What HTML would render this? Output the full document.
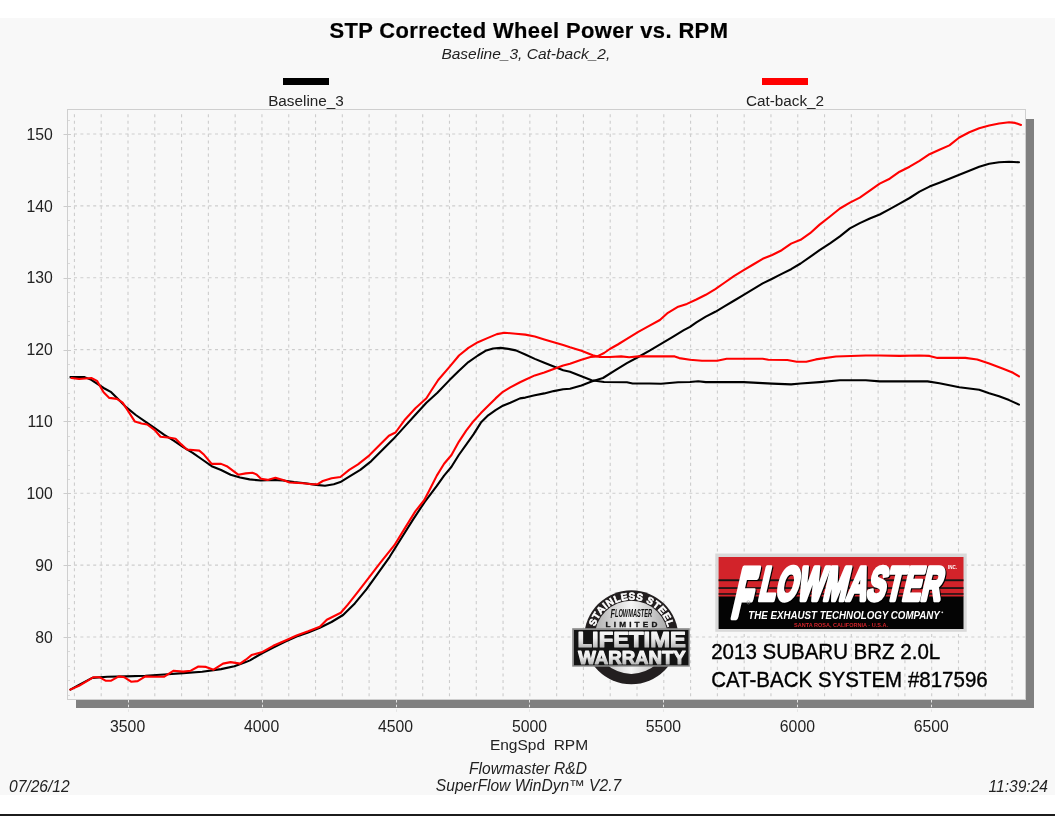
<!DOCTYPE html>
<html><head><meta charset="utf-8"><title>STP Corrected Wheel Power vs. RPM</title>
<style>
html,body{margin:0;padding:0;width:1055px;height:816px;overflow:hidden;background:#fff}
svg{position:absolute;left:0;top:0;display:block}
text{font-family:"Liberation Sans",Arial,sans-serif}
</style></head><body>
<svg width="1055" height="816" viewBox="0 0 1055 816">
<defs>
<linearGradient id="disc" x1="0" y1="0" x2="1" y2="0">
<stop offset="0" stop-color="#b0b0b0"/><stop offset="0.5" stop-color="#f6f6f6"/><stop offset="1" stop-color="#a8a8a8"/>
</linearGradient>
<linearGradient id="txtsil" x1="0" y1="0" x2="0" y2="1">
<stop offset="0" stop-color="#ffffff"/><stop offset="0.45" stop-color="#ececec"/><stop offset="1" stop-color="#a0a0a0"/>
</linearGradient>
<filter id="fmsh" x="-5%" y="-10%" width="110%" height="120%" color-interpolation-filters="sRGB">
<feOffset in="SourceAlpha" dx="1.4" dy="0.5" result="o"/>
<feMorphology in="o" operator="dilate" radius="0.45" result="d"/>
<feFlood flood-color="#000"/><feComposite in2="d" operator="in" result="s"/>
<feMerge><feMergeNode in="s"/><feMergeNode in="SourceGraphic"/></feMerge>
</filter>
<path id="arc" d="M 593.5 637.3 A 37.8 37.8 0 0 1 669.1 637.3"/>
</defs>
<rect x="0" y="18" width="1055" height="777" fill="#f8f8f8"/>
<rect x="0" y="814" width="1055" height="2" fill="#1c1c1c"/>
<!-- plot shadow -->
<rect x="76" y="119" width="958" height="589" fill="#808080"/>
<rect x="67" y="109" width="959" height="591" fill="#f8f8f8"/>
<g stroke="#cdcdcd" stroke-width="1.1" fill="none">
<g stroke-dasharray="3.1 3.48">
<line x1="74.42" y1="114.13" x2="74.42" y2="699"/>
<line x1="101.21" y1="114.13" x2="101.21" y2="699"/>
<line x1="128.0" y1="114.13" x2="128.0" y2="699"/>
<line x1="154.79" y1="114.13" x2="154.79" y2="699"/>
<line x1="181.58" y1="114.13" x2="181.58" y2="699"/>
<line x1="208.37" y1="114.13" x2="208.37" y2="699"/>
<line x1="235.16" y1="114.13" x2="235.16" y2="699"/>
<line x1="261.95" y1="114.13" x2="261.95" y2="699"/>
<line x1="288.74" y1="114.13" x2="288.74" y2="699"/>
<line x1="315.53" y1="114.13" x2="315.53" y2="699"/>
<line x1="342.32" y1="114.13" x2="342.32" y2="699"/>
<line x1="369.11" y1="114.13" x2="369.11" y2="699"/>
<line x1="395.9" y1="114.13" x2="395.9" y2="699"/>
<line x1="422.69" y1="114.13" x2="422.69" y2="699"/>
<line x1="449.48" y1="114.13" x2="449.48" y2="699"/>
<line x1="476.27" y1="114.13" x2="476.27" y2="699"/>
<line x1="503.06" y1="114.13" x2="503.06" y2="699"/>
<line x1="529.85" y1="114.13" x2="529.85" y2="699"/>
<line x1="556.64" y1="114.13" x2="556.64" y2="699"/>
<line x1="583.43" y1="114.13" x2="583.43" y2="699"/>
<line x1="610.22" y1="114.13" x2="610.22" y2="699"/>
<line x1="637.01" y1="114.13" x2="637.01" y2="699"/>
<line x1="663.8" y1="114.13" x2="663.8" y2="699"/>
<line x1="690.59" y1="114.13" x2="690.59" y2="699"/>
<line x1="717.38" y1="114.13" x2="717.38" y2="699"/>
<line x1="744.17" y1="114.13" x2="744.17" y2="699"/>
<line x1="770.96" y1="114.13" x2="770.96" y2="699"/>
<line x1="797.75" y1="114.13" x2="797.75" y2="699"/>
<line x1="824.54" y1="114.13" x2="824.54" y2="699"/>
<line x1="851.33" y1="114.13" x2="851.33" y2="699"/>
<line x1="878.12" y1="114.13" x2="878.12" y2="699"/>
<line x1="904.91" y1="114.13" x2="904.91" y2="699"/>
<line x1="931.7" y1="114.13" x2="931.7" y2="699"/>
<line x1="958.49" y1="114.13" x2="958.49" y2="699"/>
<line x1="985.28" y1="114.13" x2="985.28" y2="699"/>
<line x1="1012.07" y1="114.13" x2="1012.07" y2="699"/>
</g>
<g stroke-dasharray="3.0 3.41">
<line x1="73.97" y1="637.02" x2="1025" y2="637.02"/>
<line x1="73.97" y1="565.16" x2="1025" y2="565.16"/>
<line x1="73.97" y1="493.3" x2="1025" y2="493.3"/>
<line x1="73.97" y1="421.44" x2="1025" y2="421.44"/>
<line x1="73.97" y1="349.58" x2="1025" y2="349.58"/>
<line x1="73.97" y1="277.72" x2="1025" y2="277.72"/>
<line x1="73.97" y1="205.86" x2="1025" y2="205.86"/>
<line x1="73.97" y1="134.0" x2="1025" y2="134.0"/>
</g>
</g>
<g stroke="#e4e4e4" stroke-width="1" stroke-dasharray="2.5 2.2" fill="none">
<line x1="128.5" y1="700" x2="128.5" y2="713"/>
<line x1="262.5" y1="700" x2="262.5" y2="713"/>
<line x1="396.5" y1="700" x2="396.5" y2="713"/>
<line x1="529.5" y1="700" x2="529.5" y2="713"/>
<line x1="663.5" y1="700" x2="663.5" y2="713"/>
<line x1="797.5" y1="700" x2="797.5" y2="713"/>
<line x1="931.5" y1="700" x2="931.5" y2="713"/>
</g>
<rect x="67.5" y="109.5" width="958" height="590" fill="none" stroke="#cfcfcf" stroke-width="1"/>
<g stroke="#cccccc" stroke-width="1" fill="none">
<line x1="63.5" y1="637.5" x2="71" y2="637.5"/>
<line x1="63.5" y1="565.5" x2="71" y2="565.5"/>
<line x1="63.5" y1="493.5" x2="71" y2="493.5"/>
<line x1="63.5" y1="421.5" x2="71" y2="421.5"/>
<line x1="63.5" y1="350.5" x2="71" y2="350.5"/>
<line x1="63.5" y1="278.5" x2="71" y2="278.5"/>
<line x1="63.5" y1="206.5" x2="71" y2="206.5"/>
<line x1="63.5" y1="134.5" x2="71" y2="134.5"/>
</g>
<g stroke="#dadada" stroke-width="1" fill="none">
<line x1="68" y1="695.5" x2="70" y2="695.5"/>
<line x1="68" y1="680.5" x2="70" y2="680.5"/>
<line x1="68" y1="666.5" x2="70" y2="666.5"/>
<line x1="68" y1="651.5" x2="70" y2="651.5"/>
<line x1="68" y1="623.5" x2="70" y2="623.5"/>
<line x1="68" y1="608.5" x2="70" y2="608.5"/>
<line x1="68" y1="594.5" x2="70" y2="594.5"/>
<line x1="68" y1="580.5" x2="70" y2="580.5"/>
<line x1="68" y1="551.5" x2="70" y2="551.5"/>
<line x1="68" y1="536.5" x2="70" y2="536.5"/>
<line x1="68" y1="522.5" x2="70" y2="522.5"/>
<line x1="68" y1="508.5" x2="70" y2="508.5"/>
<line x1="68" y1="479.5" x2="70" y2="479.5"/>
<line x1="68" y1="465.5" x2="70" y2="465.5"/>
<line x1="68" y1="450.5" x2="70" y2="450.5"/>
<line x1="68" y1="436.5" x2="70" y2="436.5"/>
<line x1="68" y1="407.5" x2="70" y2="407.5"/>
<line x1="68" y1="393.5" x2="70" y2="393.5"/>
<line x1="68" y1="378.5" x2="70" y2="378.5"/>
<line x1="68" y1="364.5" x2="70" y2="364.5"/>
<line x1="68" y1="335.5" x2="70" y2="335.5"/>
<line x1="68" y1="321.5" x2="70" y2="321.5"/>
<line x1="68" y1="306.5" x2="70" y2="306.5"/>
<line x1="68" y1="292.5" x2="70" y2="292.5"/>
<line x1="68" y1="263.5" x2="70" y2="263.5"/>
<line x1="68" y1="249.5" x2="70" y2="249.5"/>
<line x1="68" y1="235.5" x2="70" y2="235.5"/>
<line x1="68" y1="220.5" x2="70" y2="220.5"/>
<line x1="68" y1="191.5" x2="70" y2="191.5"/>
<line x1="68" y1="177.5" x2="70" y2="177.5"/>
<line x1="68" y1="163.5" x2="70" y2="163.5"/>
<line x1="68" y1="148.5" x2="70" y2="148.5"/>
<line x1="68" y1="120.5" x2="70" y2="120.5"/>
</g>

<!-- title & legend -->
<text transform="translate(329.4,37.9) scale(1.035,1)" font-size="21.2" font-weight="bold" letter-spacing="0.38" fill="#000" stroke="#000" stroke-width="0.2">STP Corrected Wheel Power vs. RPM</text>
<text x="441.4" y="59.2" font-size="15.5" font-style="italic" fill="#222">Baseline_3, Cat-back_2,</text>
<rect x="283" y="78" width="46" height="7" fill="#000"/>
<rect x="762" y="78" width="46" height="7" fill="#f00"/>
<text x="306" y="105.5" font-size="15.3" text-anchor="middle" fill="#222">Baseline_3</text>
<text x="785" y="105.5" font-size="15.3" text-anchor="middle" fill="#222">Cat-back_2</text>

<g font-size="15.8" fill="#222">
<text transform="translate(52.8,642.6) scale(1,1.04)" text-anchor="end">80</text>
<text transform="translate(52.8,570.8) scale(1,1.04)" text-anchor="end">90</text>
<text transform="translate(52.8,498.9) scale(1,1.04)" text-anchor="end">100</text>
<text transform="translate(52.8,427.0) scale(1,1.04)" text-anchor="end">110</text>
<text transform="translate(52.8,355.2) scale(1,1.04)" text-anchor="end">120</text>
<text transform="translate(52.8,283.3) scale(1,1.04)" text-anchor="end">130</text>
<text transform="translate(52.8,211.5) scale(1,1.04)" text-anchor="end">140</text>
<text transform="translate(52.8,139.6) scale(1,1.04)" text-anchor="end">150</text>
<text transform="translate(127.6,731.6) scale(1,1.04)" text-anchor="middle">3500</text>
<text transform="translate(261.6,731.6) scale(1,1.04)" text-anchor="middle">4000</text>
<text transform="translate(395.5,731.6) scale(1,1.04)" text-anchor="middle">4500</text>
<text transform="translate(529.5,731.6) scale(1,1.04)" text-anchor="middle">5000</text>
<text transform="translate(663.4,731.6) scale(1,1.04)" text-anchor="middle">5500</text>
<text transform="translate(797.4,731.6) scale(1,1.04)" text-anchor="middle">6000</text>
<text transform="translate(931.3,731.6) scale(1,1.04)" text-anchor="middle">6500</text>
</g>
<text x="539" y="750.2" font-size="15.5" text-anchor="middle" fill="#222" xml:space="preserve">EngSpd  RPM</text>
<text x="528" y="773.8" font-size="15.6" font-style="italic" text-anchor="middle" fill="#222">Flowmaster R&amp;D</text>
<text x="528.5" y="790.9" font-size="15.6" font-style="italic" text-anchor="middle" fill="#222">SuperFlow WinDyn™ V2.7</text>
<text transform="translate(9,792) scale(1,1.04)" font-size="15.6" font-style="italic" fill="#222">07/26/12</text>
<text transform="translate(1048,792) scale(1,1.04)" font-size="15.6" font-style="italic" text-anchor="end" fill="#222">11:39:24</text>

<!-- curves -->
<g fill="none" stroke-width="2.1" stroke-linejoin="round" stroke-linecap="round">
<polyline stroke="#000" points="70.4,377.1 84.6,377.1 91.3,379.9 97.0,383.7 103.6,388.0 111.2,392.2 118.8,399.8 126.4,407.4 135.8,415.0 145.3,421.6 154.8,428.2 164.3,434.9 173.7,440.6 183.2,447.2 192.7,452.9 202.2,459.5 211.7,466.2 221.1,470.0 230.6,474.7 240.1,477.5 249.6,479.4 261.0,480.5 272.0,479.9 283.1,480.5 294.1,482.1 305.1,483.2 316.2,484.9 325.0,485.8 333.8,484.3 340.4,482.1 349.2,476.6 360.3,469.9 371.3,461.1 382.3,450.1 393.3,439.1 404.4,426.9 415.4,414.8 426.4,402.7 437.4,392.8 449.5,380.1 459.0,370.7 468.4,362.1 477.9,355.5 485.5,350.8 493.1,348.5 500.7,347.9 508.2,348.9 515.8,350.4 525.3,354.5 534.8,358.9 544.3,362.7 553.7,366.5 563.2,370.3 570.0,371.8 581.4,376.3 591.6,380.3 604.1,382.0 626.9,382.3 632.6,383.5 649.6,383.5 661.0,383.7 678.1,382.3 690.0,382.0 698.2,381.2 705.8,382.1 743.7,382.1 762.7,383.1 772.2,383.6 791.1,384.4 800.6,383.5 819.6,382.1 839.9,380.2 865.8,380.2 879.7,381.4 927.5,381.4 939.4,383.3 949.4,385.3 959.3,387.3 979.2,389.7 989.2,393.3 999.1,396.3 1009.1,400.1 1019.0,404.6"/>
<polyline stroke="#000" points="70.4,689.6 79.0,684.9 92.2,677.9 107.4,676.7 126.4,676.4 145.3,675.8 164.3,674.5 183.2,673.1 202.2,671.8 221.1,669.1 234.4,666.3 245.8,662.1 250.0,660.4 261.6,653.5 273.3,647.6 284.9,641.8 296.6,636.5 308.2,632.5 319.8,627.8 331.5,622.0 343.1,615.0 354.8,603.4 366.4,589.4 378.1,573.1 389.7,556.8 401.3,538.2 413.0,519.6 424.6,502.1 436.8,485.9 444.1,475.6 451.5,466.8 458.8,455.0 466.2,444.7 473.5,434.4 480.9,422.6 488.2,415.3 495.6,410.1 502.9,405.7 510.3,402.8 520.0,398.4 525.3,397.6 534.8,395.3 544.3,393.4 553.7,391.1 563.2,389.2 570.0,388.8 581.4,385.4 591.6,381.4 603.0,378.0 615.5,370.1 626.9,363.2 638.3,357.0 649.6,350.7 661.0,343.9 672.4,337.1 683.8,330.2 690.0,326.8 696.4,322.3 705.8,316.6 715.3,311.8 724.8,306.2 734.3,300.5 743.7,294.8 753.2,289.1 762.7,283.4 772.2,278.7 781.7,273.9 791.1,269.2 800.6,263.5 810.1,256.9 819.6,250.2 830.0,243.4 839.9,236.4 849.9,228.4 859.8,223.1 869.8,218.5 879.7,214.5 889.7,209.1 899.6,203.6 909.6,198.0 919.5,191.6 929.5,186.6 939.4,182.7 949.4,178.7 959.3,174.7 969.3,170.7 979.2,166.7 989.2,163.7 999.1,162.2 1009.1,161.8 1019.0,162.3"/>
<polyline stroke="#f00" points="71.4,378.0 79.0,379.0 91.3,378.0 97.0,380.9 103.6,392.2 109.3,397.9 116.9,398.9 122.6,402.7 128.2,411.2 134.9,421.6 141.5,423.5 147.2,424.5 154.8,430.1 160.5,436.8 170.0,437.7 175.6,438.7 181.3,444.4 187.0,449.5 199.3,450.6 204.1,454.8 211.7,463.9 221.1,463.9 226.8,466.2 238.2,474.7 245.8,473.4 252.4,472.8 256.6,474.4 261.0,478.8 267.6,479.9 275.4,477.7 283.1,479.9 289.7,482.5 302.9,483.2 311.7,484.3 317.3,484.3 322.8,481.0 331.6,478.3 340.4,477.0 349.2,469.9 358.0,464.4 369.1,455.6 380.1,444.6 388.9,435.8 395.5,432.5 404.4,420.3 415.4,408.2 426.4,398.3 431.0,391.0 438.2,380.0 449.5,366.9 459.0,355.5 468.4,347.9 477.9,342.2 487.4,338.1 496.9,334.1 504.5,332.7 515.8,333.7 525.3,334.6 534.8,336.5 544.3,339.4 553.7,342.2 563.2,345.1 570.0,347.3 581.4,350.7 592.8,355.3 599.6,357.0 609.8,357.0 621.2,356.4 629.2,357.3 638.3,356.4 649.6,356.4 674.7,356.4 679.2,358.1 690.0,359.8 702.0,360.7 717.2,360.7 726.7,358.8 762.7,358.8 768.4,359.8 787.3,360.0 796.8,361.8 806.3,361.8 815.8,359.4 835.9,356.5 865.8,355.5 879.7,355.5 899.6,355.9 919.5,355.5 929.5,355.9 937.4,357.9 965.3,357.9 977.2,359.5 989.2,363.4 1003.1,368.8 1013.1,372.8 1019.0,376.4"/>
<polyline stroke="#f00" points="70.4,689.6 79.0,685.8 93.2,677.3 99.8,677.3 105.5,680.7 111.2,680.7 118.8,676.4 124.5,677.3 131.1,681.7 137.7,681.1 145.3,676.4 152.9,676.7 164.3,676.7 173.7,670.7 183.2,671.6 190.8,670.7 198.4,666.5 206.0,666.9 213.6,669.7 223.0,663.6 230.6,662.1 240.1,663.6 245.8,659.7 251.5,655.1 261.6,652.3 273.3,645.8 284.9,640.7 296.6,635.5 308.2,631.3 319.8,626.7 326.8,619.7 340.8,612.7 347.8,604.6 357.1,592.9 368.7,577.8 380.4,562.7 394.4,545.2 403.7,530.1 415.3,511.4 424.3,500.0 429.4,490.3 436.8,475.6 444.1,463.8 451.5,455.0 458.8,441.8 466.2,430.7 473.5,421.2 480.9,413.1 488.2,405.7 495.6,398.4 502.9,391.8 510.3,387.4 520.0,382.2 525.3,379.8 534.8,375.4 544.3,372.6 553.7,369.1 563.2,365.5 570.0,363.8 581.4,359.8 590.5,357.0 597.3,356.4 604.1,353.0 609.8,349.0 617.8,344.5 626.9,338.8 638.3,331.9 649.6,325.7 659.9,320.0 667.9,312.8 677.4,307.1 686.9,303.9 696.4,299.5 705.8,294.8 715.3,289.1 724.8,282.5 734.3,275.8 743.7,270.1 753.2,264.5 762.7,258.8 772.2,255.0 781.7,250.2 791.1,243.6 800.6,239.8 810.1,233.2 819.6,224.6 830.0,216.5 839.9,208.5 849.9,202.6 859.8,197.6 869.8,190.6 879.7,183.6 889.7,178.7 899.6,171.7 909.6,166.7 919.5,160.8 929.5,154.2 939.4,149.8 949.4,145.4 959.3,137.5 969.3,132.3 979.2,128.3 989.2,125.5 999.1,123.5 1009.1,122.3 1015.1,122.9 1021.0,124.9"/>
</g>

<!-- Flowmaster logo -->
<rect x="715.3" y="553.5" width="251.4" height="78.3" fill="#d9d9d9"/>
<rect x="718.6" y="557" width="244.9" height="40" fill="#d2232a"/>
<rect x="718.6" y="596.5" width="244.9" height="32.5" fill="#040404"/>
<rect x="718.6" y="579.3" width="244.9" height="1.9" fill="#151515"/>
<rect x="718.6" y="587.2" width="244.9" height="1.7" fill="#151515"/>
<rect x="718.6" y="593.2" width="244.9" height="1.5" fill="#151515"/>
<g font-weight="bold" stroke-linejoin="round" filter="url(#fmsh)" fill="#fff" stroke="#fff"><g transform="translate(730.2,616.6) skewX(-13) scale(0.45,1)"><text x="0" y="0" font-size="70" stroke-width="6.5">F</text></g><g transform="translate(757.4,600.1) skewX(-13) scale(0.586,1)"><text x="0" y="0" font-size="47.5" stroke-width="4.4">LOWMASTER</text></g></g>
<text x="748.3" y="618.6" font-size="10.2" font-weight="bold" font-style="italic" fill="#fff" textLength="191.5" lengthAdjust="spacingAndGlyphs">THE EXHAUST TECHNOLOGY COMPANY</text>
<text x="794" y="626.8" font-size="5" font-weight="bold" fill="#d2232a" textLength="94" lengthAdjust="spacingAndGlyphs">SANTA ROSA, CALIFORNIA - U.S.A.</text>
<text x="948" y="569" font-size="4.5" font-weight="bold" fill="#fff">INC.</text>
<circle cx="748.4" cy="602.4" r="1.6" fill="none" stroke="#888" stroke-width="0.6"/>
<circle cx="942.3" cy="612.3" r="0.9" fill="#ddd"/>

<!-- warranty badge -->
<circle cx="631.3" cy="637.3" r="47" fill="#231f20"/>
<circle cx="631.3" cy="637.3" r="36.6" fill="url(#disc)"/>
<text font-size="9.9" font-weight="bold" fill="#fff" stroke="#fff" stroke-width="0.6"><textPath href="#arc" startOffset="10.8" textLength="97.5" lengthAdjust="spacing">STAINLESS STEEL</textPath></text>
<text x="610.6" y="617" font-size="10.6" font-weight="bold" font-style="italic" fill="#111" textLength="41.5" lengthAdjust="spacingAndGlyphs"><tspan font-size="13.5" dy="1.2">F</tspan><tspan dy="-1.2">LOWMASTER</tspan></text>
<text x="605.5" y="626.7" font-size="7.8" font-weight="bold" fill="#111" stroke="#111" stroke-width="0.3" textLength="55" lengthAdjust="spacingAndGlyphs" letter-spacing="3">LIMITED</text>
<rect x="572.2" y="628.2" width="117.6" height="38.5" fill="#8a8a8a"/>
<rect x="574" y="630" width="114.4" height="35.2" fill="#141414"/>
<text x="577.6" y="646.8" font-size="21.5" font-weight="bold" fill="url(#txtsil)" stroke="url(#txtsil)" stroke-width="1.1" stroke-linejoin="round" textLength="108.2" lengthAdjust="spacingAndGlyphs">LIFETIME</text>
<text x="578.2" y="663.8" font-size="17.8" font-weight="bold" fill="url(#txtsil)" stroke="url(#txtsil)" stroke-width="1.1" stroke-linejoin="round" textLength="107.6" lengthAdjust="spacingAndGlyphs">WARRANTY</text>

<!-- vehicle text -->
<text transform="translate(711.2,658.6) scale(1.005,1.04)" font-size="20.4" fill="#000" stroke="#000" stroke-width="0.35">2013 SUBARU BRZ 2.0L</text>
<text transform="translate(711.2,686.9) scale(1.005,1.04)" font-size="20.4" fill="#000" stroke="#000" stroke-width="0.35">CAT-BACK SYSTEM #817596</text>
</svg>
</body></html>
